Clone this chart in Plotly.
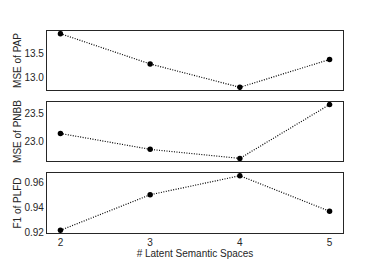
import plotly.graph_objects as go
from plotly.subplots import make_subplots

spaces = [2, 3, 4, 5]
mse_pap = [13.89, 13.28, 12.81, 13.37]
mse_pnbb = [23.14, 22.86, 22.70, 23.65]
f1_plfd = [0.922, 0.950, 0.965, 0.937]

titles = ["MSE of PAP", "MSE of PNBB", "F1 of PLFD"]
series = [mse_pap, mse_pnbb, f1_plfd]
yticks = [[13.0, 13.5], [23.0, 23.5], [0.92, 0.94, 0.96]]
yticktext = [["13.0", "13.5"], ["23.0", "23.5"], ["0.92", "0.94", "0.96"]]

fig = make_subplots(rows=3, cols=1, shared_xaxes=False, vertical_spacing=0.0)

domains = [[0.708, 1.0], [0.356, 0.649], [0.0, 0.297]]
font = dict(family="Liberation Sans, Arial, sans-serif", size=10, color="#262626")

for i, (vals, title) in enumerate(zip(series, titles)):
    fig.add_trace(go.Scatter(
        x=spaces, y=vals, mode="lines+markers",
        line=dict(color="black", dash="1px,1.5px", width=1.2),
        marker=dict(color="black", size=5.5),
        showlegend=False), row=i + 1, col=1)
    lo, hi = min(vals), max(vals)
    m = (hi - lo) * 0.05
    yax = "yaxis" if i == 0 else f"yaxis{i+1}"
    xax = "xaxis" if i == 0 else f"xaxis{i+1}"
    fig.layout[yax].update(
        domain=domains[i], range=[lo - m, hi + m], automargin=False,
        tickvals=yticks[i], ticktext=yticktext[i],
        showgrid=False, zeroline=False, showline=True, mirror=True,
        linecolor="#262626", linewidth=1.2, ticks="", ticklen=0,
        tickfont=font, title=dict(text=title, font=font, standoff=0))
    fig.layout[xax].update(
        range=[1.85, 5.15], tickvals=spaces, automargin=False,
        showticklabels=(i == 2),
        showgrid=False, zeroline=False, showline=True, mirror=True,
        linecolor="#262626", linewidth=1.2, ticks="",
        tickfont=font)

fig.layout["xaxis3"].update(title=dict(text="# Latent Semantic Spaces", font=font, standoff=0))

# page body has an 8px default margin, so the figure is sized to fill the rest
fig.update_layout(
    width=374, height=254,
    margin=dict(l=39, r=39, t=23, b=29),
    paper_bgcolor="white", plot_bgcolor="white",
    font=font,
)

fig.write_html("out.html")
